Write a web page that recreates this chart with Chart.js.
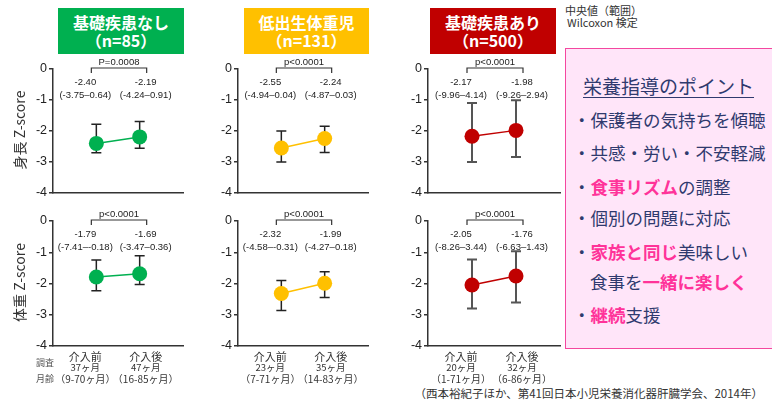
<!DOCTYPE html>
<html>
<head>
<meta charset="utf-8">
<script src="https://cdn.jsdelivr.net/npm/chart.js@4.4.1/dist/chart.umd.min.js"></script>
<style>
  body { margin:0; width:772px; height:405px; position:relative; overflow:hidden; background:#fff;
         font-family:"Noto Sans CJK JP","Liberation Sans",sans-serif; }
  canvas.panel { position:absolute; left:0; top:0; }
  .hdr { position:absolute; top:8px; height:46px; color:#fff; font-weight:bold; font-size:16px;
         text-align:center; line-height:18px; display:flex; flex-direction:column; justify-content:center;
         font-family:"Noto Sans CJK JP",sans-serif; }
  .note { position:absolute; font-size:11px; color:#333; line-height:12px; white-space:nowrap; }
  .pbox { position:absolute; left:565px; top:48px; width:215px; height:301px; background:#ffe5f9;
          border:1.5px solid #f4479f; box-sizing:border-box; }
  .pl { position:absolute; font-size:17.5px; line-height:22px; height:22px; color:#2f3a6e; white-space:nowrap; }
  .pk { color:#ff3399; font-weight:bold; }
  .src { position:absolute; right:9px; top:386px; font-size:11.5px; line-height:14px; color:#333; white-space:nowrap; }
</style>
</head>
<body>

<div class="hdr" style="left:58px;width:126px;background:#00b050;"><div>基礎疾患なし</div><div>（n=85）</div></div>
<div class="hdr" style="left:244px;width:125px;background:#ffc000;"><div>低出生体重児</div><div>（n=131）</div></div>
<div class="hdr" style="left:430px;width:126px;background:#c00000;"><div>基礎疾患あり</div><div>（n=500）</div></div>

<div class="note" style="left:565px;top:4px;">中央値（範囲）</div>
<div class="note" style="left:567px;top:16px;">Wilcoxon 検定</div>

<div class="pbox"></div>
<div class="pl" style="left:583px;top:74px;font-size:19px;line-height:24px;height:24px;text-decoration:underline;text-underline-offset:3px;text-decoration-thickness:1px;">栄養指導のポイント</div>
<div class="pl" style="left:573px;top:109px;">・保護者の気持ちを傾聴</div>
<div class="pl" style="left:573px;top:142px;">・共感・労い・不安軽減</div>
<div class="pl" style="left:573px;top:176px;">・<span class="pk">食事リズム</span>の調整</div>
<div class="pl" style="left:573px;top:207px;">・個別の問題に対応</div>
<div class="pl" style="left:573px;top:241px;">・<span class="pk">家族と同じ</span>美味しい</div>
<div class="pl" style="left:590px;top:271px;">食事を<span class="pk">一緒に楽しく</span></div>
<div class="pl" style="left:573px;top:304px;">・<span class="pk">継続</span>支援</div>

<div class="src">（西本裕紀子ほか、第41回日本小児栄養消化器肝臓学会、2014年）</div>

<canvas class="panel" id="h0" width="772" height="405"></canvas>
<canvas class="panel" id="h1" width="772" height="405"></canvas>
<canvas class="panel" id="h2" width="772" height="405"></canvas>
<canvas class="panel" id="w0" width="772" height="405"></canvas>
<canvas class="panel" id="w1" width="772" height="405"></canvas>
<canvas class="panel" id="w2" width="772" height="405"></canvas>

<script>
// Time points and groups
const timepoints = ['介入前', '介入後'];
const groupColors = ['#00b050', '#ffc000', '#c00000'];
const whiskerColors = ['#222222', '#222222', '#555555'];

// Height Z-score: median and range per group (before, after)
const heightMedian  = [[-2.40, -2.19], [-2.55, -2.24], [-2.17, -1.98]];
const heightRangeLo = [[-3.75, -4.24], [-4.94, -4.87], [-9.96, -9.26]];
const heightRangeHi = [[0.64, 0.91], [0.04, 0.03], [4.14, 2.94]];
const heightBarHi   = [[-1.78, -1.69], [-2.00, -1.85], [-1.10, -1.01]];
const heightBarLo   = [[-2.70, -2.56], [-3.00, -2.69], [-3.00, -2.84]];
const heightP       = ['P=0.0008', 'p<0.0001', 'p<0.0001'];

// Weight Z-score: median and range per group (before, after)
const weightMedian  = [[-1.79, -1.69], [-2.32, -1.99], [-2.05, -1.76]];
const weightRangeLo = [[-7.41, -3.47], [-4.58, -4.27], [-8.26, -6.63]];
const weightRangeHi = [[-0.18, 0.36], [-0.31, 0.18], [3.44, 1.43]];
const weightBarHi   = [[-1.25, -1.11], [-1.90, -1.62], [-1.23, -0.97]];
const weightBarLo   = [[-2.23, -2.03], [-2.86, -2.45], [-2.80, -2.61]];
const weightP       = ['p<0.0001', 'p<0.0001', 'p<0.0001'];

// Age at survey (months): median, min, max
const ageMedian = [[37, 47], [23, 35], [20, 32]];
const ageMin    = [[9, 16], [7, 14], [1, 6]];
const ageMax    = [[70, 85], [71, 83], [71, 86]];

// Y axis ticks
const yMin = -4, yMax = 0, yStep = 1;

// Panel frames (plot area edges on the page)
const colLeft  = [53, 238, 428];
const colRight = [183, 368, 560];
const rowTop    = { h: 69, w: 221 };
const rowBottom = { h: 193, w: 346 };
const rowTitle  = { h: '身長 Z-score', w: '体重 Z-score' };

const NUM_FONT = '"Liberation Sans", "Noto Sans CJK JP", sans-serif';
const JP_FONT = '"Noto Sans CJK JP", "Liberation Sans", sans-serif';

function text(ctx, s, x, y, size, color, family, align) {
  ctx.font = size + 'px ' + (family || NUM_FONT);
  ctx.fillStyle = color || '#222';
  ctx.textAlign = align || 'center';
  ctx.textBaseline = 'middle';
  ctx.fillText(s, x, y);
}

function makePanel(id, row, g) {
  const med  = row === 'h' ? heightMedian[g]  : weightMedian[g];
  const rLo  = row === 'h' ? heightRangeLo[g] : weightRangeLo[g];
  const rHi  = row === 'h' ? heightRangeHi[g] : weightRangeHi[g];
  const bHi  = row === 'h' ? heightBarHi[g]   : weightBarHi[g];
  const bLo  = row === 'h' ? heightBarLo[g]   : weightBarLo[g];
  const pTxt = row === 'h' ? heightP[g]       : weightP[g];
  const col = groupColors[g];

  const annotate = {
    id: 'annotate',
    beforeDatasetsDraw(chart) {
      const ctx = chart.ctx, xs = chart.scales.x, ys = chart.scales.y;
      ctx.save();
      ctx.strokeStyle = whiskerColors[g];
      ctx.lineWidth = g === 2 ? 2 : 1.5;
      timepoints.forEach((t, i) => {
        const x = xs.getPixelForValue(i + 1);
        const yt = ys.getPixelForValue(bHi[i]);
        const yb = ys.getPixelForValue(bLo[i]);
        ctx.beginPath();
        ctx.moveTo(x, yt); ctx.lineTo(x, yb);
        ctx.moveTo(x - 5, yt); ctx.lineTo(x + 5, yt);
        ctx.moveTo(x - 5, yb); ctx.lineTo(x + 5, yb);
        ctx.stroke();
      });
      ctx.restore();
    },
    afterDraw(chart) {
      const ctx = chart.ctx, xs = chart.scales.x, ys = chart.scales.y;
      const top = chart.chartArea.top, bottom = chart.chartArea.bottom;
      const x1 = xs.getPixelForValue(1), x2 = xs.getPixelForValue(2);
      const cx = [x1 - 11, x2 + 6];
      ctx.save();
      // significance bracket
      const bl = x1 - 5, br = x2 + 7, by = top - 1;
      ctx.strokeStyle = '#333'; ctx.lineWidth = 1.2;
      ctx.beginPath();
      ctx.moveTo(bl, by + 5); ctx.lineTo(bl, by); ctx.lineTo(br, by); ctx.lineTo(br, by + 5);
      ctx.stroke();
      text(ctx, pTxt, (bl + br) / 2, top - 7, 9.5, '#222');
      // median (range)
      timepoints.forEach((t, i) => {
        text(ctx, med[i].toFixed(2), cx[i], top + 13, 9.5, '#222');
        text(ctx, '(' + rLo[i].toFixed(2) + '–' + rHi[i].toFixed(2) + ')', cx[i], top + 26, 9.5, '#222');
      });
      // axis title
      if (g === 0) {
        ctx.save();
        ctx.translate(20, (top + bottom) / 2 - 1);
        ctx.rotate(-Math.PI / 2);
        text(ctx, rowTitle[row], 0, 0, 14, '#333', JP_FONT);
        ctx.restore();
      }
      // time point labels with age at survey
      if (row === 'w') {
        const lx = [x1 - 11, x2 + 6];
        timepoints.forEach((t, i) => {
          text(ctx, t, lx[i], bottom + 11, 11, '#333', JP_FONT);
          text(ctx, ageMedian[g][i] + 'ヶ月', lx[i], bottom + 21, 9.5, '#333', JP_FONT);
          text(ctx, '（' + ageMin[g][i] + '-' + ageMax[g][i] + 'ヶ月）', lx[i], bottom + 33, 10, '#333', JP_FONT);
        });
        if (g === 0) {
          text(ctx, '調査', 45, bottom + 17, 9, '#555', JP_FONT);
          text(ctx, '月齢', 45, bottom + 33, 9, '#555', JP_FONT);
        }
      }
      ctx.restore();
    }
  };

  const left = colLeft[g], right = colRight[g], top = rowTop[row], bottom = rowBottom[row];
  new Chart(document.getElementById(id), {
    type: 'line',
    data: {
      datasets: [{
        data: timepoints.map((t, i) => ({ x: i + 1, y: med[i] })),
        borderColor: col,
        backgroundColor: col,
        borderWidth: 1.5,
        pointRadius: 7.5,
        pointHoverRadius: 7.5,
        pointBorderWidth: 0,
        tension: 0
      }]
    },
    options: {
      responsive: false,
      animation: false,
      events: [],
      layout: { padding: { left: left - 33, top: top, right: 772 - right, bottom: 405 - bottom } },
      plugins: { legend: { display: false }, tooltip: { enabled: false } },
      scales: {
        x: {
          type: 'linear', min: 0, max: 3,
          ticks: { display: false },
          grid: { display: true, drawOnChartArea: false, drawTicks: false },
          border: { display: true, color: '#333', width: 1.5 },
          afterFit(s) { s.height = 0; }
        },
        y: {
          min: yMin, max: yMax,
          ticks: { stepSize: yStep, color: '#222', padding: 2, font: { size: 12.5, family: NUM_FONT } },
          grid: { drawOnChartArea: false, drawTicks: true, tickLength: 4, color: '#333', lineWidth: 1.5 },
          border: { display: true, color: '#333', width: 1.5 },
          afterFit(s) { s.width = 33; }
        }
      }
    },
    plugins: [annotate]
  });
}

[0, 1, 2].forEach(g => { makePanel('h' + g, 'h', g); makePanel('w' + g, 'w', g); });
</script>
</body>
</html>
